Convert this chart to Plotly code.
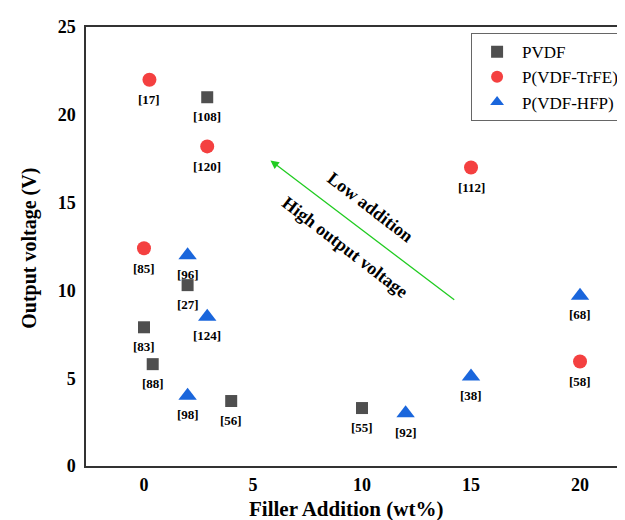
import plotly.graph_objects as go

# PVDF
pvdf_x = [0, 0.4, 2, 2.9, 4, 10]
pvdf_y = [7.9, 5.8, 10.3, 21.0, 3.7, 3.3]
pvdf_ref = ["[83]", "[88]", "[27]", "[108]", "[56]", "[55]"]
# P(VDF-TrFE)
trfe_x = [0.25, 0, 2.9, 15, 20]
trfe_y = [22.0, 12.4, 18.2, 17.0, 5.95]
trfe_ref = ["[17]", "[85]", "[120]", "[112]", "[58]"]
# P(VDF-HFP)
hfp_x = [2, 2.9, 2, 12, 15, 20]
hfp_y = [12.0, 8.5, 4.0, 3.0, 5.1, 9.7]
hfp_ref = ["[96]", "[124]", "[98]", "[92]", "[38]", "[68]"]

x_ticks = [0, 5, 10, 15, 20]
y_ticks = [0, 5, 10, 15, 20, 25]

FONT = "Liberation Serif"

fig = go.Figure()
fig.add_trace(go.Scatter(x=pvdf_x, y=pvdf_y, mode="markers", name="PVDF",
                         marker=dict(symbol="square", size=12, color="#4f4f4f")))
fig.add_trace(go.Scatter(x=trfe_x, y=trfe_y, mode="markers", name="P(VDF-TrFE)",
                         marker=dict(symbol="circle", size=14, color="#f44040")))
fig.add_trace(go.Scatter(x=hfp_x, y=hfp_y, mode="markers", name="P(VDF-HFP)",
                         marker=dict(symbol="triangle-up", size=16, color="#1a66dc")))

annotations = []
for xs, ys, refs, shift in [(pvdf_x, pvdf_y, pvdf_ref, -19),
                             (trfe_x, trfe_y, trfe_ref, -20),
                             (hfp_x, hfp_y, hfp_ref, -19)]:
    for xv, yv, r in zip(xs, ys, refs):
        annotations.append(dict(x=xv, y=yv, text=r, showarrow=False, yshift=shift,
                                font=dict(family=FONT, size=13, color="black", weight="bold")))

# arrow
annotations.append(dict(x=5.8, y=17.4, ax=14.3, ay=9.4, xref="x", yref="y", axref="x", ayref="y",
                        text="", showarrow=True, arrowhead=2, arrowsize=1.3, arrowwidth=1.3,
                        arrowcolor="#22cc22"))
annotations.append(dict(x=10.37, y=14.74, text="Low addition", showarrow=False, textangle=37.6,
                        font=dict(family=FONT, size=18, color="black", weight="bold")))
annotations.append(dict(x=9.22, y=12.5, text="High output voltage", showarrow=False, textangle=37.6,
                        font=dict(family=FONT, size=18, color="black", weight="bold")))
# axis titles
annotations.append(dict(x=0.475, y=-0.097, xref="paper", yref="paper", text="Filler Addition (wt%)",
                        showarrow=False, xanchor="center", yanchor="middle",
                        font=dict(family=FONT, size=21, color="black", weight="bold")))
annotations.append(dict(x=-0.1024, y=0.497, xref="paper", yref="paper", text="Output voltage (V)",
                        showarrow=False, xanchor="center", yanchor="middle", textangle=-90,
                        font=dict(family=FONT, size=20, color="black", weight="bold")))
fig.update_layout(annotations=annotations)

fig.update_layout(
    width=625, height=520,
    margin=dict(l=78, r=0, t=19, b=62),
    plot_bgcolor="white", paper_bgcolor="white",
    font=dict(family=FONT, color="black"),
    showlegend=True,
    legend=dict(x=0.704, y=0.986, xanchor="left", yanchor="top",
                bordercolor="#666666", borderwidth=1, bgcolor="white",
                font=dict(family=FONT, size=17, color="black"),
                itemsizing="constant", tracegroupgap=0, indentation=0, itemwidth=40),
    xaxis=dict(range=[-2.66, 22.43], tickvals=x_ticks, showgrid=False, zeroline=False,
               showline=True, linecolor="#333333", linewidth=1.5, mirror=True, ticks="",
               ticklabelstandoff=2,
               tickfont=dict(family=FONT, size=18, color="black", weight="bold")),
    yaxis=dict(range=[0, 25], tickvals=y_ticks, showgrid=False, zeroline=False,
               showline=True, linecolor="#333333", linewidth=1.5, mirror=False, ticks="",
               ticklabelstandoff=5,
               tickfont=dict(family=FONT, size=18, color="black", weight="bold")),
)

fig.write_html("out.html")
